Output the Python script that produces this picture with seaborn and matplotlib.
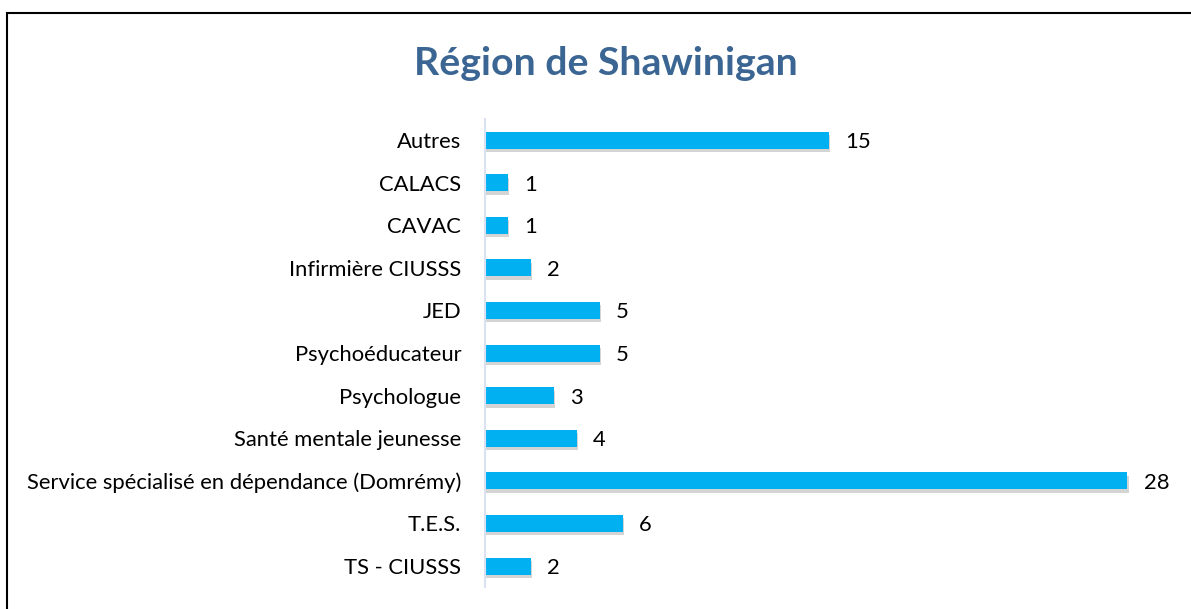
import matplotlib
matplotlib.use("Agg")
import matplotlib.pyplot as plt
import matplotlib.patheffects as pe
import seaborn as sns
import pandas as pd

sns.set_theme(style="white")
plt.rcParams['font.family'] = ['Lato', 'DejaVu Sans']

# Data
categories = ['Autres', 'CALACS', 'CAVAC', 'Infirmière CIUSSS', 'JED',
              'Psychoéducateur', 'Psychologue', 'Santé mentale jeunesse',
              'Service spécialisé en dépendance (Domrémy)', 'T.E.S.', 'TS - CIUSSS']
values = [15, 1, 1, 2, 5, 5, 3, 4, 28, 6, 2]
title = 'Région de Shawinigan'

df = pd.DataFrame({'Categorie': categories, 'Valeur': values})

fig = plt.figure(figsize=(11.91, 6.09), dpi=100)
ax = fig.add_axes([0.4072, 0.0356, 0.985 - 0.4072, 0.805 - 0.0356])

sns.barplot(data=df, x='Valeur', y='Categorie', color='#00B0F0', width=0.4,
            saturation=1, ax=ax)
for bar in ax.patches:
    bar.set_linewidth(0)
    bar.set_path_effects([pe.SimplePatchShadow(offset=(1, -2.5), shadow_rgbFace='#555555', alpha=0.25),
                          pe.Normal()])

ax.set_xlim(0, 30)
ax.set_ylim(10.5, -0.5)
ax.set_xlabel('')
ax.set_ylabel('')
ax.set_xticks([])
for s in ['top', 'right', 'bottom']:
    ax.spines[s].set_visible(False)
ax.spines['left'].set_color('#D9E1F2')
ax.spines['left'].set_linewidth(1.5)
ax.tick_params(axis='y', length=0, pad=17, labelsize=15.8, labelcolor='black')

for i, v in enumerate(values):
    ax.text(v + 0.72, i, str(v), va='center_baseline', ha='left', fontsize=15.8, color='black')

fig.text(0.509, 0.895, title, ha='center', va='center', fontsize=28.3,
         fontweight='bold', color='#3B6592')

# Chart-area border (extends beyond the image on right and bottom)
fig.patches.append(plt.Rectangle((7 / 1191, -0.05), 1.2, 1 - 13 / 609 + 0.05,
                                 transform=fig.transFigure, fill=False,
                                 edgecolor='black', linewidth=1.5))

fig.savefig('out.png', dpi=100, facecolor='white')
